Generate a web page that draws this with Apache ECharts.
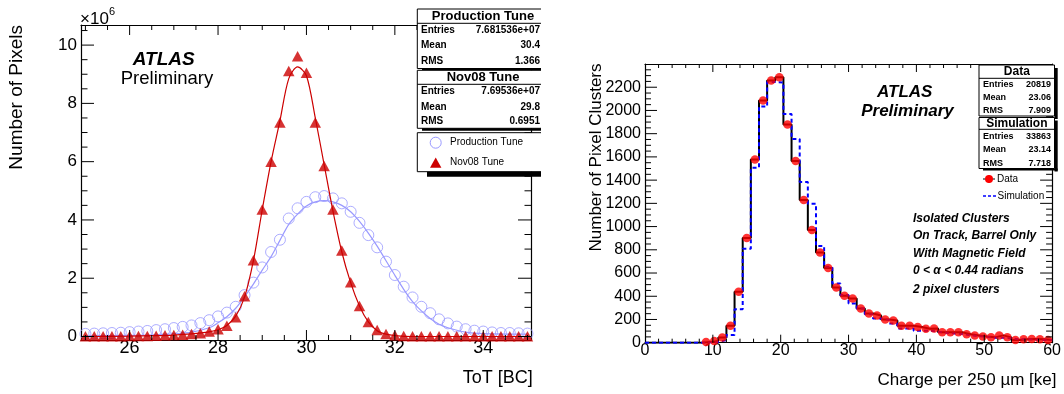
<!DOCTYPE html>
<html><head><meta charset="utf-8">
<script src="https://cdn.jsdelivr.net/npm/echarts@6/dist/echarts.min.js"></script>
<style>html,body{margin:0;padding:0;background:#fff}#c{width:1064px;height:394px}</style>
</head><body><div id="c"></div>
<script>
// ---------- Left panel: ToT distributions (y in units of 10^6 pixels) ----------
const totX = [25.0,25.2,25.4,25.6,25.8,26.0,26.2,26.4,26.6,26.8,27.0,27.2,27.4,27.6,27.8,28.0,28.2,28.4,28.6,28.8,29.0,29.2,29.4,29.6,29.8,30.0,30.2,30.4,30.6,30.8,31.0,31.2,31.4,31.6,31.8,32.0,32.2,32.4,32.6,32.8,33.0,33.2,33.4,33.6,33.8,34.0,34.2,34.4,34.6,34.8,35.0];
const prodTune = [0.09,0.10,0.11,0.12,0.13,0.15,0.17,0.19,0.22,0.25,
  0.29,0.33,0.38,0.46,0.56,0.69,0.82,1.02,1.42,1.85,
  2.37,2.90,3.32,4.05,4.40,4.62,4.78,4.82,4.74,4.57,
  4.28,3.90,3.48,3.06,2.57,2.11,1.71,1.34,1.02,0.80,
  0.59,0.45,0.34,0.25,0.20,0.17,0.14,0.12,0.12,0.11,0.10];
const nov08Tune = [0.01,0.01,0.01,0.01,0.01,0.02,0.02,0.02,0.03,0.04,
  0.05,0.06,0.09,0.11,0.17,0.25,0.37,0.66,1.38,2.62,
  4.36,6.00,7.34,9.11,9.62,9.05,7.34,5.85,4.36,2.95,
  1.86,1.05,0.50,0.22,0.09,0.04,0.02,0.01,0.01,0.01,
  0.01,0.01,0.01,0.01,0.01,0.01,0.01,0.01,0.01,0.01,0.01];
const prodFitX = [25.0,26.0,26.6,27.0,27.4,27.8,28.0,28.2,28.4,28.6,28.8,29.0,29.2,29.4,29.6,29.8,30.0,30.2,30.4,30.6,30.8,31.0,31.2,31.4,31.6,31.8,32.0,32.2,32.4,32.6,32.8,33.0,33.2,33.6,34.0,35.0];
const prodFitY = [0.02,0.04,0.06,0.09,0.15,0.30,0.47,0.68,0.97,1.37,1.80,2.28,2.74,3.30,3.85,4.20,4.48,4.62,4.66,4.62,4.50,4.28,3.95,3.55,3.10,2.60,2.10,1.62,1.20,0.88,0.62,0.42,0.30,0.15,0.10,0.08];
const nov08FitX = [25.0,26.0,26.6,27.0,27.4,27.8,28.0,28.2,28.4,28.6,28.8,29.0,29.2,29.4,29.6,29.8,30.0,30.2,30.4,30.6,30.8,31.0,31.2,31.4,31.6,31.8,32.0,32.4,33.0,35.0];
const nov08FitY = [0.0,0.01,0.03,0.05,0.09,0.16,0.23,0.38,0.70,1.35,2.60,4.35,6.00,7.40,8.85,9.25,8.95,7.50,5.90,4.30,2.90,1.85,1.05,0.50,0.20,0.08,0.03,0.0,0.0,0.0];
const leftXTicks = [26,28,30,32,34];
const leftYTicks = [0,2,4,6,8,10];
const prodStats = [['Entries','7.681536e+07'],['Mean','30.4'],['RMS','1.366']];
const nov08Stats = [['Entries','7.69536e+07'],['Mean','29.8'],['RMS','0.6951']];

// ---------- Right panel: cluster charge ----------
const binEdges = [0,1.2,2.4,3.6,4.8,6,7.2,8.4,9.6,10.8,12,13.2,14.4,15.6,16.8,18,19.2,20.4,21.6,22.8,24,25.2,26.4,27.6,28.8,30,31.2,32.4,33.6,34.8,36,37.2,38.4,39.6,40.8,42,43.2,44.4,45.6,46.8,48,49.2,50.4,51.6,52.8,54,55.2,56.4,57.6,58.8,60];
const dataCounts = [0,0,0,0,0,0,0,5,15,45,146,438,902,1578,2085,2257,2285,1879,1564,1228,971,776,644,475,404,381,295,252,235,200,192,146,146,135,120,123,89,89,89,72,63,54,46,63,46,23,29,31,29,23];
const simCounts = [0,0,0,0,0,0,0,2,6,23,66,289,810,1506,2033,2245,2240,1970,1755,1383,1197,833,653,510,410,338,295,246,209,195,166,123,123,103,103,95,86,80,74,63,57,52,43,43,37,29,29,26,23,23];
const dataStats = [['Entries','20819'],['Mean','23.06'],['RMS','7.909']];
const simStats = [['Entries','33863'],['Mean','23.14'],['RMS','7.718']];
const notes = ['Isolated Clusters','On Track, Barrel Only','With Magnetic Field','0 < \u03b1 < 0.44 radians','2 pixel clusters'];

// ---------- build ----------
const FONT = '"Liberation Sans", Arial, Helvetica, sans-serif';
const chart = echarts.init(document.getElementById('c'), null, {renderer:'canvas'});

const LXMIN=24.9, LXMAX=35.08, LYMIN=-0.12, LYMAX=10.69;
const NOSPLIT = {splitLine:{show:false}, minorSplitLine:{show:false}, axisTick:{show:false}, minorTick:{show:false}};

function lx(pos, labels){
  return Object.assign({gridIndex:0, type:'value', position:pos, min:LXMIN, max:LXMAX, splitNumber:5,
    axisLine:{show:true, onZero:false, lineStyle:{color:'#000', width:1.2}},
    axisLabel:{show:labels, showMinLabel:false, showMaxLabel:false, margin:-1, color:'#000', fontSize:18, fontFamily:FONT, formatter:v=>String(v)}}, NOSPLIT);
}
function ly(pos, labels){
  return Object.assign({gridIndex:0, type:'value', position:pos, min:LYMIN, max:LYMAX, splitNumber:5,
    axisLine:{show:true, onZero:false, lineStyle:{color:'#000', width:1.2}},
    axisLabel:{show:labels, showMinLabel:false, showMaxLabel:false, margin:4, color:'#000', fontSize:17, fontFamily:FONT, formatter:v=>String(v)}}, NOSPLIT);
}
function rx(pos, labels){
  return Object.assign({gridIndex:1, type:'value', position:pos, min:0, max:60, interval:10,
    axisLine:{show:true, onZero:false, lineStyle:{color:'#000', width:1.2}},
    axisLabel:{show:labels, margin:0, color:'#000', fontSize:16, fontFamily:FONT, formatter:v=>String(v)}}, NOSPLIT);
}
function ry(pos, labels){
  return Object.assign({gridIndex:1, type:'value', position:pos, min:0, max:2400, interval:200,
    axisLine:{show:true, onZero:false, lineStyle:{color:'#000', width:1.2}},
    axisLabel:{show:labels, margin:4, showMaxLabel:false, color:'#000', fontSize:16, fontFamily:FONT, formatter:v=>String(v)}}, NOSPLIT);
}

// tick marks (major + minor, mirrored on opposite side) placed through the axes' scales
function seq(lo, hi, step){ const o=[]; for(let v=lo; v<=hi+1e-9; v+=step) o.push(Math.round(v*1000)/1000); return o; }
// [value, 0=x-tick/1=y-tick, length]
const leftTicks = [].concat(
  seq(25,35,0.5).map(v=>[v,0,leftXTicks.includes(v)?10:5]),
  seq(0,10.5,0.5).map(v=>[v,1,leftYTicks.includes(v)?13:6.5]));
const rightTicks = [].concat(
  seq(2,58,2).map(v=>[v,0,(v%10===0)?8:4]),
  seq(50,2350,50).map(v=>[v,1,(v%200===0)?12:6]));
function tickSeries(xi, yi, ticks, xRef, yRef){
  return {type:'custom', xAxisIndex:xi, yAxisIndex:yi, data:ticks, z:6, silent:true, clip:false,
    encode:{x:0},
    renderItem:(params, api)=>{
      const cs = params.coordSys; const v=api.value(0), kind=api.value(1), len=api.value(2);
      const st = {stroke:'#000', lineWidth:1};
      if(kind===0){
        const x = api.coord([v, yRef])[0]; const b = cs.y+cs.height, t = cs.y;
        return {type:'group', children:[
          {type:'line', shape:{x1:x, y1:b, x2:x, y2:b-len}, style:st},
          {type:'line', shape:{x1:x, y1:t, x2:x, y2:t+len}, style:st}]};
      }
      const y = api.coord([xRef, v])[1]; const l = cs.x, r = cs.x+cs.width;
      return {type:'group', children:[
        {type:'line', shape:{x1:l, y1:y, x2:l+len, y2:y}, style:st},
        {type:'line', shape:{x1:r, y1:y, x2:r-len, y2:y}, style:st}]};
    }};
}

// histogram step data
const dataStep = binEdges.map((e,i)=>[e, dataCounts[Math.min(i,dataCounts.length-1)]]);
const simStep = binEdges.map((e,i)=>[e, simCounts[Math.min(i,simCounts.length-1)]]);
const dataPts = [];
dataCounts.forEach((v,i)=>{ if(v>0) dataPts.push([(binEdges[i]+binEdges[i+1])/2, v]); });

// graphic helpers
const G=[];
function txt(x,y,text,size,opt){
  opt=opt||{};
  G.push({type:'text', x, y, rotation:opt.rot||0, z:100, silent:true,
    style:{text, fill:'#000', fontSize:size, fontFamily:FONT, fontWeight:opt.w||'normal', fontStyle:opt.s||'normal',
      align:opt.a||'left', verticalAlign:'middle'}});
}
function line(x1,y1,x2,y2,c,w,dash){
  G.push({type:'line', z:100, silent:true, shape:{x1,y1,x2,y2}, style:{stroke:c||'#000', lineWidth:w||1, lineDash:dash||null}});
}
function rect(x,y,w,h,fill,stroke){
  G.push({type:'rect', z:100, silent:true, shape:{x,y,width:w,height:h}, style:{fill:fill, stroke:stroke||null, lineWidth:1}});
}

// left axis titles & labels
txt(17,25,'Number of Pixels',19,{a:'right', rot:Math.PI/2});
txt(532.7,377.7,'ToT [BC]',18,{a:'right'});
txt(80,19.5,'\u00d710',17);
txt(109,12,'6',11);
txt(163.7,59.3,'ATLAS',19,{w:'bold', s:'italic', a:'center'});
txt(167,79.3,'Preliminary',18.5,{a:'center'});

// left stats boxes (cut at panel edge)
const BX=417.3, BR=541;
function leftBox(top,bottom,sep,title,titleY,rows,rowY){
  rect(BX,top,BR-BX,bottom-top,'#fff');
  line(BX,top,BR,top); line(BX,top,BX,bottom); line(BX,bottom,BR,bottom); line(BX,sep,BR,sep);
  txt(483,titleY,title,13,{w:'bold', a:'center'});
  rows.forEach((r,i)=>{ txt(421,rowY[i],r[0],10,{w:'bold'}); txt(540,rowY[i],r[1],10,{w:'bold', a:'right'}); });
}
leftBox(9,68.5,23.3,'Production Tune',16.3,prodStats,[30.3,45.5,61]);
rect(422,68.5,119,1.8,'#000');
leftBox(70.3,128.3,84.3,'Nov08 Tune',77.3,nov08Stats,[91,107.3,121]);
rect(422,128.3,119,2.5,'#000');
rect(BX,132.7,BR-BX,39,'#fff');
line(BX,132.7,BR,132.7); line(BX,132.7,BX,171.7); line(BX,171.7,BR,171.7);
rect(427,171.7,114,5,'#000');
G.push({type:'circle', z:101, silent:true, shape:{cx:435.7, cy:142.7, r:5.5}, style:{fill:'none', stroke:'#9999ff', lineWidth:1}});
G.push({type:'polygon', z:101, silent:true, shape:{points:[[430,167.8],[441.4,167.8],[435.7,157.6]]}, style:{fill:'#cc0000'}});
txt(450,142.7,'Production Tune',10);
txt(450,162.7,'Nov08 Tune',10);

// right axis titles & labels
txt(596.7,63.5,'Number of Pixel Clusters',17,{a:'right', rot:Math.PI/2});
txt(1056.5,380,'Charge per 250 \u00b5m [ke]',17,{a:'right'});
txt(904.7,92.3,'ATLAS',17,{w:'bold', s:'italic', a:'center'});
txt(907.5,111,'Preliminary',17,{w:'bold', s:'italic', a:'center'});
const noteY=[219,236,253.3,271,289.3];
notes.forEach((n,i)=>txt(913,noteY[i],n,12,{w:'bold', s:'italic'}));

// right stats boxes
function rightBox(top,bottom,sep,title,titleY,rows,rowY){
  rect(1054.5,top+3,3.2,bottom-top,'#000');
  rect(979,top,75.5,bottom-top,'#fff','#000');
  line(979,sep,1054.5,sep);
  txt(1016.8,titleY,title,12,{w:'bold', a:'center'});
  rows.forEach((r,i)=>{ txt(983,rowY[i],r[0],9,{w:'bold'}); txt(1051,rowY[i],r[1],9,{w:'bold', a:'right'}); });
}
rightBox(65,116,78.3,'Data',71.5,dataStats,[84.3,97.7,110.7]);
rightBox(117.5,168.5,129.3,'Simulation',123.5,simStats,[136.8,150,163.3]);
rect(983,168.5,74.7,2,'#000');
line(983,179,995,179,'#000',1);
line(989,175,989,183,'#000',1);
G.push({type:'circle', z:101, silent:true, shape:{cx:989, cy:179, r:4}, style:{fill:'#ff0000'}});
txt(997,179,'Data',10);
line(983,196,996,196,'#0000ff',1.5,[3,2]);
txt(997.5,196,'Simulation',10);

const option = {
  animation:false,
  backgroundColor:'#fff',
  grid:[
    {left:81, top:25, width:450, height:315},
    {left:645, top:64, width:412, height:278.7}
  ],
  xAxis:[ lx('bottom',true), lx('top',false), rx('bottom',true), rx('top',false) ],
  yAxis:[ ly('left',true), ly('right',false), ry('left',true), ry('right',false) ],
  series:[
    {type:'scatter', xAxisIndex:0, yAxisIndex:0, data: totX.map((x,i)=>[x,prodTune[i]]),
      symbol:'circle', symbolSize:11, itemStyle:{color:'rgba(0,0,0,0)', borderColor:'#9999ff', borderWidth:1}, z:2},
    {type:'line', xAxisIndex:0, yAxisIndex:0, data: prodFitX.map((x,i)=>[x,prodFitY[i]]), smooth:0.3,
      showSymbol:false, lineStyle:{color:'#9999ff', width:1.2}, z:3},
    {type:'scatter', xAxisIndex:0, yAxisIndex:0, data: totX.map((x,i)=>[x,nov08Tune[i]]),
      symbol:'triangle', symbolSize:[11.5,10.5], itemStyle:{color:'#cc0000'}, z:4},
    {type:'line', xAxisIndex:0, yAxisIndex:0, data: nov08FitX.map((x,i)=>[x,nov08FitY[i]]), smooth:0.3,
      showSymbol:false, lineStyle:{color:'#cc0000', width:1.2}, z:5},
    {type:'line', xAxisIndex:2, yAxisIndex:2, data:dataStep, step:'end', showSymbol:false,
      lineStyle:{color:'#000', width:2}, z:2},
    {type:'line', xAxisIndex:2, yAxisIndex:2, data:simStep, step:'end', showSymbol:false,
      lineStyle:{color:'#0000ff', width:2, type:[4,3]}, z:3},
    {type:'scatter', xAxisIndex:2, yAxisIndex:2, data:dataPts, symbol:'circle', symbolSize:8.5,
      itemStyle:{color:'#ff0000'}, z:4},
    tickSeries(0,0,leftTicks,LXMIN+1,LYMIN+1),
    tickSeries(2,2,rightTicks,1,1)
  ],
  graphic:{elements:G}
};
chart.setOption(option);
</script>
</body></html>
